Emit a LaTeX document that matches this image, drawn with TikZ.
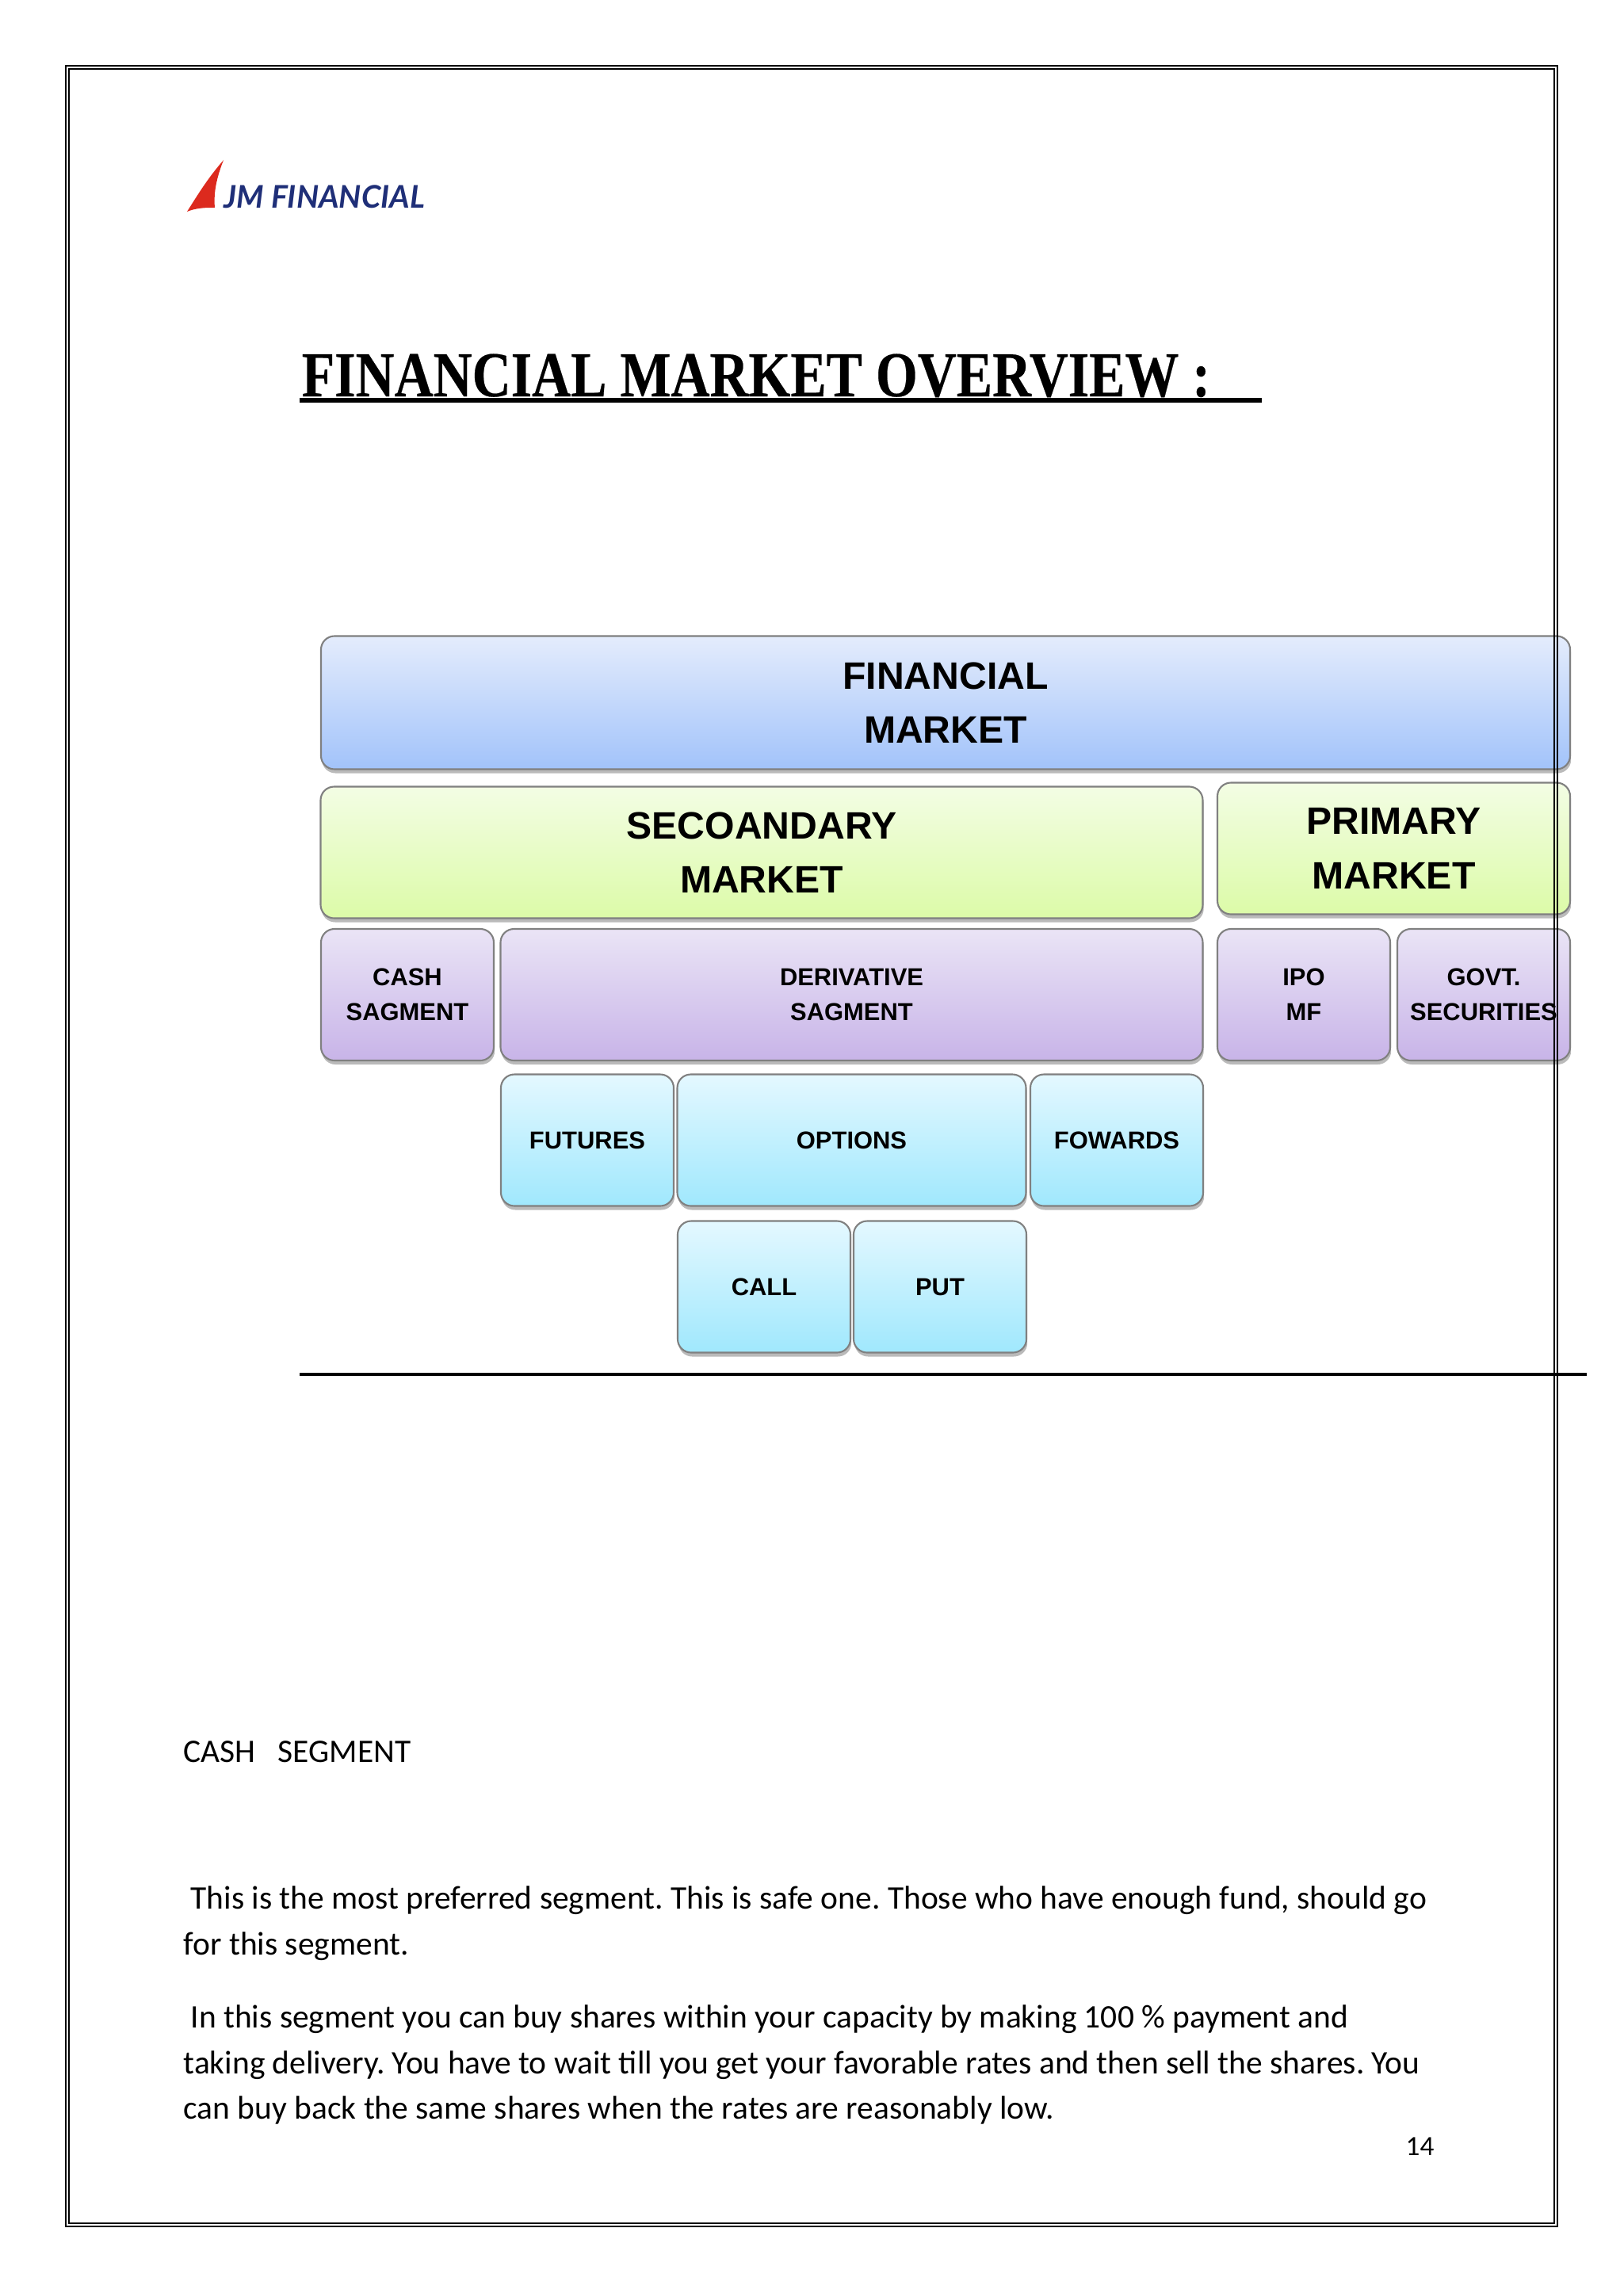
\documentclass[tikz,border=0pt]{standalone}
\usepackage{fontspec}
\usepackage{xcolor}
\usetikzlibrary{positioning,shadows}
\newfontfamily\boxfont{Liberation Sans}
\newfontfamily\bodyfont{Carlito}
\newfontfamily\headfont[FakeStretch=0.84,BoldFeatures={FakeBold=0.3}]{Liberation Serif}
\newfontfamily\logofont{Lato}
\definecolor{logoblue}{HTML}{1F2F78}
\definecolor{logored}{HTML}{DC2A1E}
\definecolor{bluetop}{HTML}{E4ECFC}
\definecolor{bluebottom}{HTML}{A2C3FA}
\definecolor{greentop}{HTML}{F3FDE4}
\definecolor{greenbottom}{HTML}{DCFBA8}
\definecolor{purpletop}{HTML}{EAE4F6}
\definecolor{purplebottom}{HTML}{C8B4E8}
\definecolor{cyantop}{HTML}{E4F8FF}
\definecolor{cyanbottom}{HTML}{A0E8FD}
\tikzset{
    marketbox/.style={draw=black!50, line width=0.6pt, rounded corners=0.17cm, inner sep=0pt,
        minimum height=1.66cm, align=center,
        drop shadow={shadow xshift=0.012cm, shadow yshift=-0.05cm, opacity=0.45, fill=black!60}},
    bigtext/.style={font=\boxfont\bfseries\fontsize{13.7}{19.5}\selectfont},
    smalltext/.style={font=\boxfont\bfseries\fontsize{8.8}{12.6}\selectfont},
    bluebox/.style={marketbox, bigtext, top color=bluetop, bottom color=bluebottom},
    greenbox/.style={marketbox, bigtext, top color=greentop, bottom color=greenbottom},
    purplebox/.style={marketbox, smalltext, top color=purpletop, bottom color=purplebottom},
    cyanbox/.style={marketbox, smalltext, top color=cyantop, bottom color=cyanbottom},
    bodyline/.style={anchor=base west, inner sep=0pt, font=\bodyfont\frenchspacing\fontsize{11.8}{14}\selectfont},
}
\begin{document}
\begin{tikzpicture}
    \useasboundingbox (0,0) rectangle (20.48,-28.93);

    % Logo
    \fill[logored] (2.82,-2.02) .. controls (2.62,-2.25) and (2.5,-2.45) .. (2.36,-2.67)
        .. controls (2.48,-2.62) and (2.6,-2.62) .. (2.71,-2.62)
        .. controls (2.69,-2.4) and (2.75,-2.2) .. (2.82,-2.02);
    \node[anchor=base west, inner sep=0pt, logoblue, font=\logofont\bfseries\itshape\fontsize{11.2}{12}\selectfont] (logo) at (2.82,-2.63) {JM FINANCIAL};

    % Title
    \node[anchor=base west, inner sep=0pt, font=\headfont\bfseries\fontsize{23}{26}\selectfont] (title) at (3.80,-5.00) {FINANCIAL MARKET OVERVIEW :};
    \draw[line width=0.06cm] (3.78,-5.05) -- (15.92,-5.05);

    % Top rows
    \node[bluebox, minimum width=15.76cm, minimum height=1.68cm] (financial) at (11.93,-8.865) {FINANCIAL\\MARKET};
    \node[greenbox, minimum width=11.13cm] (secondary) at (9.61,-10.755) {SECOANDARY\\MARKET};
    \node[greenbox, minimum width=4.45cm] (primary) at (17.585,-10.705) {PRIMARY\\MARKET};

    % Segment row
    \node[purplebox, minimum width=2.18cm] (cash) at (5.14,-12.55) {CASH\\SAGMENT};
    \node[purplebox, minimum width=8.86cm] (derivative) at (10.745,-12.55) {DERIVATIVE\\SAGMENT};
    \node[purplebox, minimum width=2.18cm] (ipo) at (16.45,-12.55) {IPO\\MF};
    \node[purplebox, minimum width=2.18cm] (govt) at (18.72,-12.55) {GOVT.\\SECURITIES};

    % Derivative products
    \node[cyanbox, minimum width=2.18cm] (futures) at (7.41,-14.385) {FUTURES};
    \node[cyanbox, minimum width=4.40cm] (options) at (10.745,-14.385) {OPTIONS};
    \node[cyanbox, minimum width=2.18cm] (fowards) at (14.09,-14.385) {FOWARDS};
    \node[cyanbox, minimum width=2.18cm] (call) at (9.64,-16.235) {CALL};
    \node[cyanbox, minimum width=2.18cm] (put) at (11.86,-16.235) {PUT};

    % Rule under the chart
    \draw[line width=0.035cm] (3.78,-17.34) -- (20.02,-17.34);

    % Body text
    \node[bodyline] (head) at (2.31,-22.235) {CASH\ \ \ SEGMENT};
    \node[bodyline] (lineone) at (2.40,-24.085) {This is the most preferred segment. This is safe one. Those who have enough fund, should go};
    \node[bodyline] (linetwo) at (2.31,-24.665) {for this segment.};
    \node[bodyline] (linethree) at (2.40,-25.585) {In this segment you can buy shares within your capacity by making 100 \% payment and};
    \node[bodyline] (linefour) at (2.31,-26.165) {taking delivery. You have to wait till you get your favorable rates and then sell the shares. You};
    \node[bodyline] (linefive) at (2.31,-26.735) {can buy back the same shares when the rates are reasonably low.};
    \node[bodyline, font=\bodyfont\fontsize{10}{12}\selectfont] (pagenum) at (17.73,-27.19) {14};

    % Page border
    \draw[line width=0.025cm] (0.83,-0.83) rectangle (19.65,-28.09);
    \draw[line width=0.025cm] (0.87,-0.87) rectangle (19.61,-28.05);
\end{tikzpicture}
\end{document}
